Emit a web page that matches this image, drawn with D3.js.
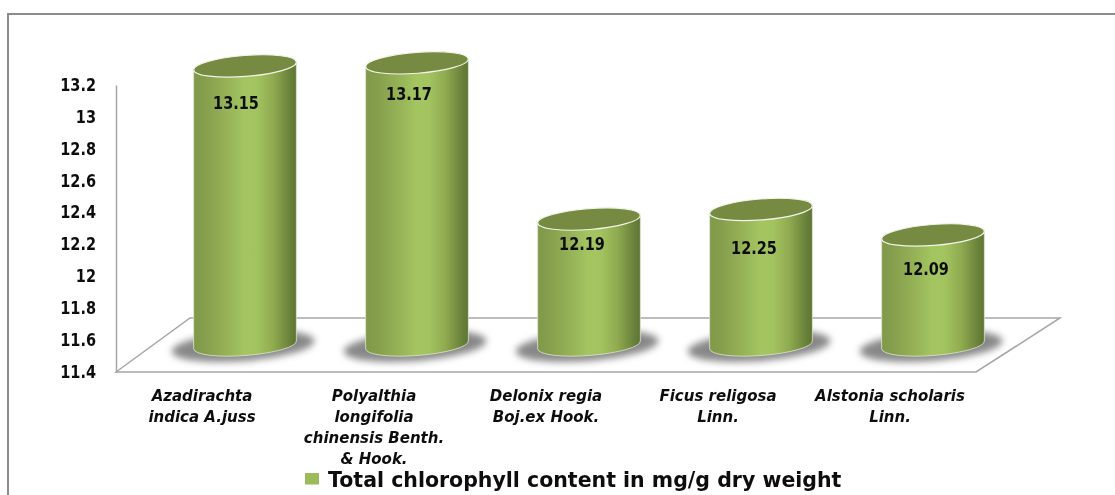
<!DOCTYPE html>
<html><head><meta charset="utf-8">
<script src="https://cdn.jsdelivr.net/npm/d3@7"></script>
<style>html,body{margin:0;padding:0;background:#fff;overflow:hidden}svg{display:block}
text{font-family:"DejaVu Sans",sans-serif;font-weight:700;fill:#111}</style>
</head><body><svg id="c" width="1115" height="495"></svg>
<script>
const categories = [
  ["Azadirachta","indica A.juss"],
  ["Polyalthia","longifolia","chinensis Benth.","& Hook."],
  ["Delonix regia","Boj.ex Hook."],
  ["Ficus religosa","Linn."],
  ["Alstonia scholaris","Linn."]
];
const values = [13.15,13.17,12.19,12.25,12.09];
const yTicks = [11.4,11.6,11.8,12,12.2,12.4,12.6,12.8,13,13.2];
const seriesName = "Total chlorophyll content in mg/g dry weight";

const svg = d3.select("#c");
const y = d3.scaleLinear().domain([11.4,13.2]).range([372,85]);
const x = d3.scaleBand().domain(d3.range(categories.length)).range([116,976]);

// layout constants
const depthY=54, cylDX=43, rx=51.5, ry=10.5, tilt=-4.4, stretch=1.16;
const labelDX=[-9,-8,-7,-7,-7], labelDY=[38,32,25,39,35];
const rad=tilt*Math.PI/180, ex=rx*Math.cos(rad), ey=rx*Math.sin(rad);

const defs=svg.append("defs");
const g=defs.append("linearGradient").attr("id","cyl");
[[0,"#80994a"],[.12,"#869f4d"],[.3,"#94b056"],[.5,"#a4c661"],[.62,"#a2c35f"],[.78,"#8fa950"],[.92,"#6d863c"],[1,"#5c7432"]]
  .forEach(s=>g.append("stop").attr("offset",s[0]).attr("stop-color",s[1]));
defs.append("filter").attr("id","blur").attr("x","-30%").attr("y","-60%").attr("width","160%").attr("height","220%")
  .append("feGaussianBlur").attr("stdDeviation",3.5);
defs.append("filter").attr("id","soft").append("feGaussianBlur").attr("stdDeviation",.35);

// frame
svg.append("path").attr("d","M1115,14H8V495").attr("fill","none").attr("stroke","#8c8c8c").attr("stroke-width",2);

// floor
const fl=x.range()[0], fr=x.range()[1], fy=y(11.4), by=fy-depthY;
svg.append("path").attr("d",`M${fl},${fy}L${fl+74},${by}H${fr+84}L${fr},${fy}Z`)
  .attr("fill","#fff").attr("stroke","#a6a6a6").attr("stroke-width",1.5);
// y axis
const ax=svg.append("g").attr("transform",`translate(${fl},0)`)
  .call(d3.axisLeft(y).tickValues(yTicks).tickSize(0).tickPadding(20).tickFormat(d=>String(d)));
ax.select(".domain").attr("stroke","#a6a6a6").attr("stroke-width",1.5);
ax.selectAll("text").attr("font-size",14.5).attr("filter","url(#soft)").attr("transform",`scale(1,${stretch})`);

// cylinders
const base=fy-depthY/2;
const bars=svg.append("g").selectAll("g").data(values).join("g")
  .attr("transform",(d,i)=>`translate(${x(i)+x.bandwidth()/2+cylDX},0)`);
bars.append("ellipse").attr("cx",-2).attr("cy",base+1).attr("rx",rx+20).attr("ry",ry+4.5)
  .attr("transform",`rotate(${tilt} 0 ${base})`)
  .attr("fill","#737373").attr("opacity",.85).attr("filter","url(#blur)");
bars.append("path")
  .attr("d",d=>{const t=y(d)-depthY/2;
    return `M${-ex},${t-ey}L${ex},${t+ey}L${ex},${base+ey}A${rx},${ry} ${tilt} 0 1 ${-ex},${base-ey}Z`;})
  .attr("fill","url(#cyl)").attr("stroke","#dfe6cf").attr("stroke-width",.8);
bars.append("ellipse").attr("cx",0).attr("cy",d=>y(d)-depthY/2).attr("rx",rx).attr("ry",ry)
  .attr("transform",d=>`rotate(${tilt} 0 ${y(d)-depthY/2})`)
  .attr("fill","#768a42").attr("stroke","#f2f4ea").attr("stroke-width",1.2);
bars.append("text").attr("text-anchor","middle").attr("font-size",14.5).attr("filter","url(#soft)")
  .attr("transform",(d,i)=>`translate(${labelDX[i]},${y(d)-depthY/2+labelDY[i]+5.5}) scale(1,${stretch})`)
  .text(d=>d.toFixed(2));

// categories
svg.append("g").selectAll("text").data(categories).join("text")
  .attr("text-anchor","middle").attr("font-size",15).attr("font-style","italic").attr("filter","url(#soft)")
  .attr("transform",(d,i)=>`translate(${x(i)+x.bandwidth()/2},0)`)
  .selectAll("tspan").data(d=>d).join("tspan")
  .attr("x",0).attr("y",(d,i)=>400.5+i*21.2).text(d=>d);

// legend
const lg=svg.append("g");
lg.append("rect").attr("x",305).attr("y",473).attr("width",14).attr("height",11.5).attr("fill","#9bbb59");
lg.append("text").attr("x",328).attr("y",486.5).attr("font-size",20.5).attr("filter","url(#soft)").text(seriesName);
</script></body></html>
